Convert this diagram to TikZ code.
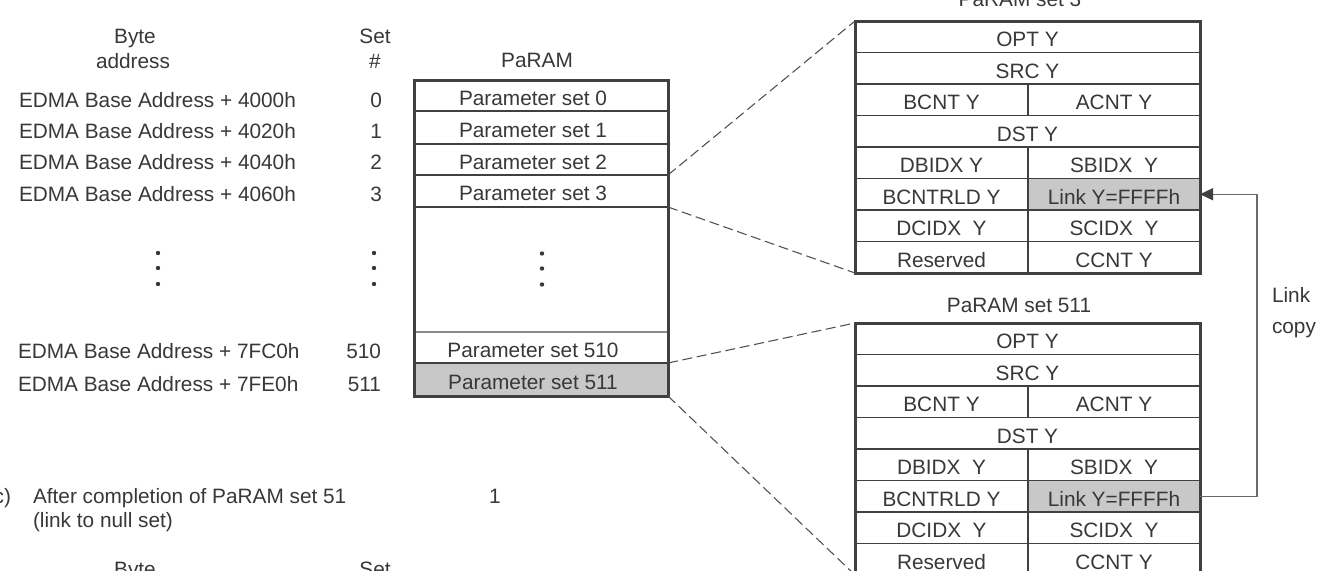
\documentclass[tikz,border=0pt]{standalone}
\usepackage{fontspec}
\setmainfont{Liberation Sans}
\usetikzlibrary{arrows.meta,calc}
\definecolor{txt}{HTML}{383838}
\definecolor{ln}{HTML}{404040}
\definecolor{lightln}{HTML}{8A8A8A}
\definecolor{shade}{HTML}{C8C8C8}
\definecolor{dashc}{HTML}{505050}
\definecolor{linkc}{HTML}{6A6A6A}
\newcommand\pslabel[1]{#1\hspace*{12pt}}
\begin{document}
\begin{tikzpicture}[x=0.75pt,y=-0.75pt,
  every node/.style={text=txt, font=\fontsize{15.6}{18}\selectfont, inner sep=0pt, outer sep=0pt},
  cell/.style={anchor=north west, draw=ln, line width=1.2pt, minimum height=31.5*0.75pt, text height=14.8pt, text depth=0pt},
  fullcell/.style={cell, minimum width=345*0.75pt},
  lcell/.style={cell, minimum width=173*0.75pt},
  rcell/.style={cell, minimum width=172*0.75pt},
  pcell/.style={anchor=north west, minimum width=254*0.75pt, text height=14.8pt, text depth=0pt},
  outer/.style={draw=ln, line width=2.25pt},
  midln/.style={draw=ln, line width=1.5pt},
  thinln/.style={draw=ln, line width=0.8pt},
  greyln/.style={draw=lightln, line width=1pt},
  zoomln/.style={draw=dashc, line width=0.8pt, dash pattern=on 7.5pt off 3.5pt},
  linkln/.style={draw=linkc, line width=1pt},
  dotmark/.style={fill=txt}]
\useasboundingbox (0,0) rectangle (1328,571);
\fill[white] (0,0) rectangle (1328,571);
\clip (0,0) rectangle (1328,571);

% ---- left column headings
\node[anchor=base] (byte) at (135,43) {Byte};
\node[anchor=base] (addr) at (133,68) {address};
\node[anchor=base] (sethdr) at (375,43) {Set};
\node[anchor=base] (hash) at (375,68) {\#};

% ---- addresses and set numbers
\node[anchor=base west] (ad0) at (19,107) {EDMA Base Address + 4000h};
\node[anchor=base west] (ad1) at (19,138) {EDMA Base Address + 4020h};
\node[anchor=base west] (ad2) at (19,169) {EDMA Base Address + 4040h};
\node[anchor=base west] (ad3) at (19,201) {EDMA Base Address + 4060h};
\node[anchor=base west] (ad510) at (18,358) {EDMA Base Address + 7FC0h};
\node[anchor=base west] (ad511) at (18,391) {EDMA Base Address + 7FE0h};
\node[anchor=base east] (n0) at (382,107) {0};
\node[anchor=base east] (n1) at (382,138) {1};
\node[anchor=base east] (n2) at (382,169) {2};
\node[anchor=base east] (n3) at (382,201) {3};
\node[anchor=base east] (n510) at (381,358) {510};
\node[anchor=base east] (n511) at (381,391) {511};

\foreach \yy in {253,268,284}{
  \fill[dotmark] (158,\yy) circle (2.2);
  \fill[dotmark] (374,\yy) circle (2.2);
}

% ---- PaRAM table
\node[anchor=base] (ptitle) at (537,67) {PaRAM};
\node[pcell, minimum height=31*0.75pt] (p0) at (414,80) {\pslabel{Parameter set 0}};
\node[pcell, minimum height=33*0.75pt] (p1) at (p0.south west) {\pslabel{Parameter set 1}};
\node[pcell, minimum height=31*0.75pt] (p2) at (p1.south west) {\pslabel{Parameter set 2}};
\node[pcell, minimum height=32*0.75pt] (p3) at (p2.south west) {\pslabel{Parameter set 3}};
\node[pcell, minimum height=125*0.75pt] (pd) at (p3.south west) {};
\node[pcell, minimum height=31*0.75pt] (p510) at (pd.south west) {\pslabel{Parameter set 510}};
\node[pcell, minimum height=33*0.75pt, fill=shade] (p511) at (p510.south west) {\pslabel{Parameter set 511}};
\draw[midln] (p0.south west) -- (p0.south east);
\draw[midln] (p1.south west) -- (p1.south east);
\draw[midln] (p2.south west) -- (p2.south east);
\draw[thinln] (p3.south west) -- (p3.south east);
\draw[greyln] (pd.south west) -- (pd.south east);
\draw[midln] (p510.south west) -- (p510.south east);
\draw[outer] (p0.north west) rectangle (p511.south east);
\foreach \dy in {-16,-1,15}{
  \fill[dotmark] ($(pd.center)+(1,\dy)$) circle (2.2);
}

% ---- PaRAM set 3
\node[anchor=base] (t3) at (1020,7) {PaRAM set 3};
\node[fullcell] (a1) at (855,21) {OPT Y};
\node[fullcell] (a2) at (a1.south west) {SRC Y};
\node[lcell] (a3l) at (a2.south west) {BCNT Y};
\node[rcell] (a3r) at (a3l.north east) {ACNT Y};
\node[fullcell] (a4) at (a3l.south west) {DST Y};
\node[lcell] (a5l) at (a4.south west) {DBIDX Y};
\node[rcell] (a5r) at (a5l.north east) {SBIDX\ \ Y};
\node[lcell] (a6l) at (a5l.south west) {BCNTRLD Y};
\node[rcell, fill=shade] (a6r) at (a6l.north east) {Link Y=FFFFh};
\node[lcell] (a7l) at (a6l.south west) {DCIDX\ \ Y};
\node[rcell] (a7r) at (a7l.north east) {SCIDX\ \ Y};
\node[lcell] (a8l) at (a7l.south west) {Reserved};
\node[rcell] (a8r) at (a8l.north east) {CCNT Y};
\draw[outer] (a1.north west) rectangle (a8r.south east);

% ---- PaRAM set 511
\node[anchor=base] (t511) at (1019,312) {PaRAM set 511};
\node[fullcell] (b1) at (855,323) {OPT Y};
\node[fullcell] (b2) at (b1.south west) {SRC Y};
\node[lcell] (b3l) at (b2.south west) {BCNT Y};
\node[rcell] (b3r) at (b3l.north east) {ACNT Y};
\node[fullcell] (b4) at (b3l.south west) {DST Y};
\node[lcell] (b5l) at (b4.south west) {DBIDX\ \ Y};
\node[rcell] (b5r) at (b5l.north east) {SBIDX\ \ Y};
\node[lcell] (b6l) at (b5l.south west) {BCNTRLD Y};
\node[rcell, fill=shade] (b6r) at (b6l.north east) {Link Y=FFFFh};
\node[lcell] (b7l) at (b6l.south west) {DCIDX\ \ Y};
\node[rcell] (b7r) at (b7l.north east) {SCIDX\ \ Y};
\node[lcell] (b8l) at (b7l.south west) {Reserved};
\node[rcell] (b8r) at (b8l.north east) {CCNT Y};
\draw[outer] (b1.north west) rectangle (b8r.south east);

% ---- zoom lines
\draw[zoomln] (p2.south east) -- (a1.north west);
\draw[zoomln] (p3.south east) -- (a8l.south west);
\draw[zoomln] (p510.south east) -- (b1.north west);
\draw[zoomln] (p511.south east) -- (b8l.south west);

% ---- link copy
\coordinate (lk) at (1257,0);
\draw[linkln, -{Triangle[length=9.75pt,width=9pt,color=ln]}]
  (b6r.east) -- (b6r.east -| lk) -- (a6r.east -| lk) -- (a6r.east);
\node[anchor=base west] (lnk) at (1272,302) {Link};
\node[anchor=base west] (cpy) at (1272,333) {copy};

% ---- caption c)
\node[anchor=base east] (clab) at (11,503) {c)};
\node[anchor=base west] (cap1) at (33,503) {After completion of PaRAM set 51};
\node[anchor=base west] (cap2) at (33,527) {(link to null set)};
\node[anchor=base] (one) at (495,503) {1};
\node[anchor=base] (byte2) at (135,576) {Byte};
\node[anchor=base] (set2) at (375,576) {Set};
\end{tikzpicture}
\end{document}
